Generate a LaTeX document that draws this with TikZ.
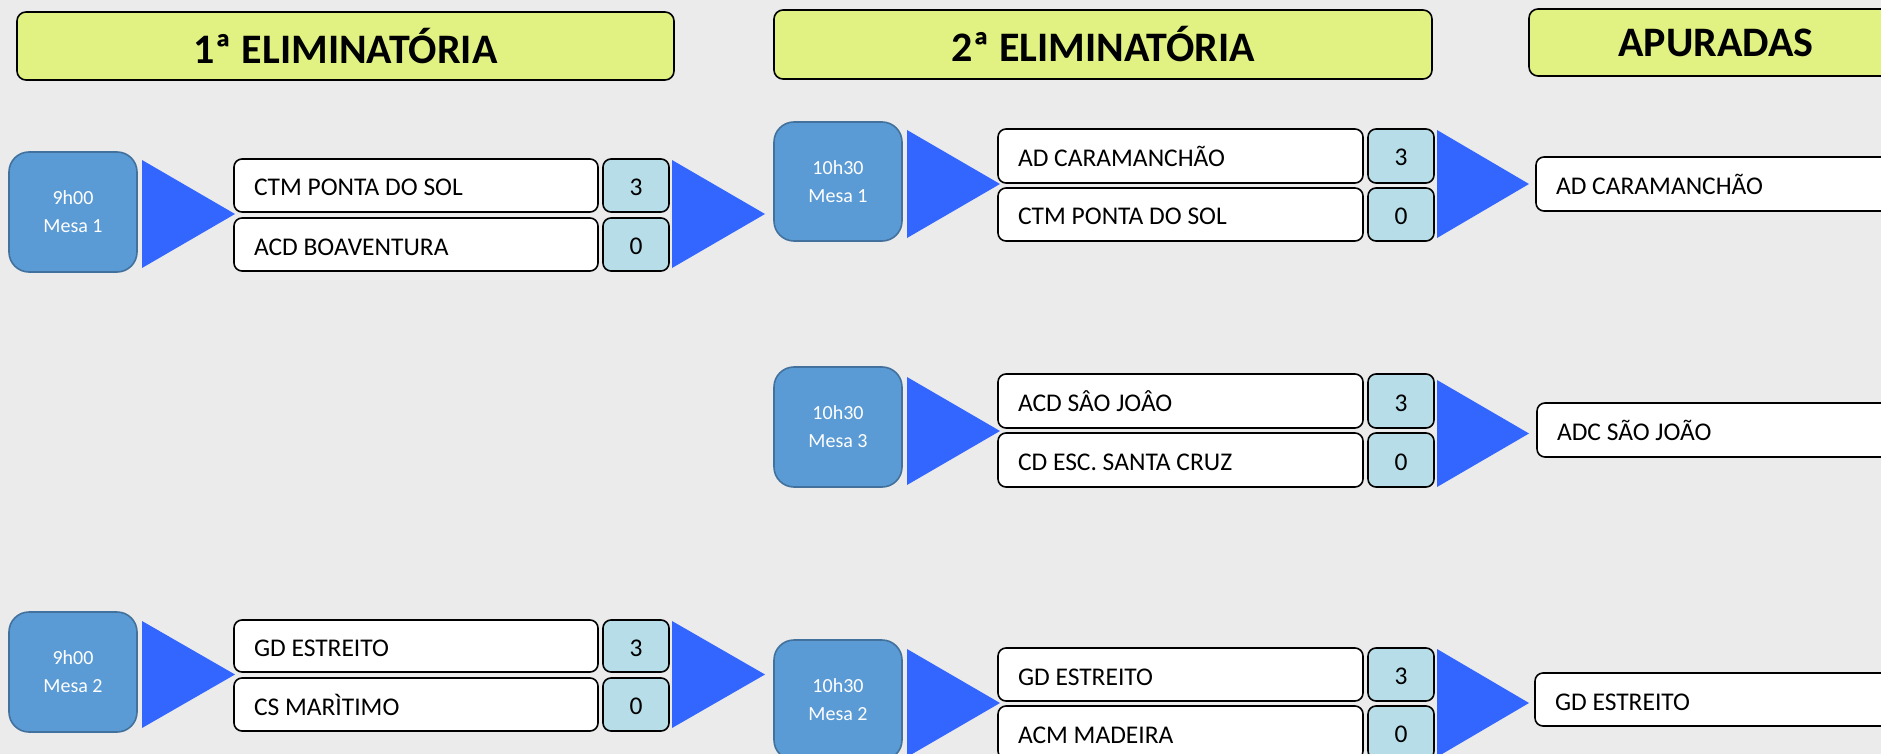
\documentclass[tikz,border=0pt]{standalone}
\usepackage{fontspec}
\setmainfont{Carlito}
\definecolor{bgcol}{HTML}{EBEBEB}
\definecolor{hdrcol}{HTML}{E2F282}
\definecolor{timecol}{HTML}{5B9BD5}
\definecolor{timeline}{HTML}{41719C}
\definecolor{scorecol}{HTML}{B7DDE8}
\definecolor{tricol}{HTML}{3366FF}
\newcommand\bx[7]{\node[#2,anchor=north west,minimum width={#5-#3},minimum height={#6-#4}] (#1) at (#3,#4) {#7};}
\newcommand\tri[4]{\fill[tri] (#1,#2) -- (#3,{(#2+#4)/2}) -- (#1,#4) -- cycle;}
\newcommand\teamlabel[2]{\node[teamtxt] (#1-l) at ([xshift=20pt,yshift=-10.5pt]#1.west) {#2};}
\begin{document}
\begin{tikzpicture}[x=1pt,y=-1pt,
  every node/.style={inner sep=0pt,outer sep=0pt},
  hdr/.style={draw=black,line width=1.6pt,fill=hdrcol,rounded corners=9pt,font=\fontsize{42}{50}\selectfont\bfseries},
  timebox/.style={draw=timeline,line width=1.6pt,fill=timecol,rounded corners=20pt,text=white,align=center,font=\fontsize{20}{28}\selectfont},
  team/.style={draw=black,line width=1.6pt,fill=white,rounded corners=8pt},
  score/.style={draw=black,line width=1.6pt,fill=scorecol,rounded corners=8pt,text height=20pt,text depth=0pt,font=\fontsize{25.5}{30}\selectfont},
  teamtxt/.style={anchor=base west,font=\fontsize{25.5}{30}\selectfont},
  tri/.style={fill=tricol}]
\useasboundingbox (0,0) rectangle (1881,754);
\fill[bgcol] (0,0) rectangle (1881,754);
\clip (0,0) rectangle (1881,754);

% headers
\bx{h1}{hdr}{17}{12}{674}{80}{1ª ELIMINATÓRIA}
\bx{h2}{hdr}{774}{10}{1432}{79}{2ª ELIMINATÓRIA}
\bx{h3}{hdr}{1529}{9}{1903}{76}{APURADAS}

% ---- round 1, match 1
\bx{tA}{timebox}{9}{152}{137}{272}{9h00\\Mesa 1}
\tri{142}{160}{235}{268}
\bx{a1}{team}{234}{159}{598}{212}{}
\bx{a2}{team}{234}{218}{598}{271}{}
\teamlabel{a1}{CTM PONTA DO SOL}
\teamlabel{a2}{ACD BOAVENTURA}
\bx{as1}{score}{603}{159}{669}{212}{3}
\bx{as2}{score}{603}{218}{669}{271}{0}
\tri{672}{160}{765}{268}

% ---- round 1, match 2
\bx{tB}{timebox}{9}{612}{137}{732}{9h00\\Mesa 2}
\tri{142}{621}{235}{728}
\bx{b1}{team}{234}{620}{598}{672}{}
\bx{b2}{team}{234}{678}{598}{731}{}
\teamlabel{b1}{GD ESTREITO}
\teamlabel{b2}{CS MARÌTIMO}
\bx{bs1}{score}{603}{620}{669}{672}{3}
\bx{bs2}{score}{603}{678}{669}{731}{0}
\tri{672}{621}{765}{728}

% ---- round 2, match 1
\bx{tC}{timebox}{774}{122}{902}{241}{10h30\\Mesa 1}
\tri{907}{130}{1000}{238}
\bx{c1}{team}{998}{129}{1363}{183}{}
\bx{c2}{team}{998}{188}{1363}{241}{}
\teamlabel{c1}{AD CARAMANCHÃO}
\teamlabel{c2}{CTM PONTA DO SOL}
\bx{cs1}{score}{1368}{129}{1434}{183}{3}
\bx{cs2}{score}{1368}{188}{1434}{241}{0}
\tri{1437}{130}{1529}{238}

% ---- round 2, match 3
\bx{tD}{timebox}{774}{367}{902}{487}{10h30\\Mesa 3}
\tri{907}{377}{1000}{485}
\bx{d1}{team}{998}{374}{1363}{428}{}
\bx{d2}{team}{998}{433}{1363}{487}{}
\teamlabel{d1}{ACD SÂO JOÂO}
\teamlabel{d2}{CD ESC. SANTA CRUZ}
\bx{ds1}{score}{1368}{374}{1434}{428}{3}
\bx{ds2}{score}{1368}{433}{1434}{487}{0}
\tri{1437}{380}{1529}{487}

% ---- round 2, match 2
\bx{tE}{timebox}{774}{640}{902}{760}{10h30\\Mesa 2}
\tri{907}{649}{1000}{757}
\bx{e1}{team}{998}{648}{1363}{701}{}
\bx{e2}{team}{998}{706}{1363}{759}{}
\teamlabel{e1}{GD ESTREITO}
\teamlabel{e2}{ACM MADEIRA}
\bx{es1}{score}{1368}{648}{1434}{701}{3}
\bx{es2}{score}{1368}{706}{1434}{759}{0}
\tri{1437}{649}{1529}{757}

% ---- qualified
\bx{q1}{team}{1536}{157}{1910}{211}{}
\bx{q2}{team}{1537}{403}{1910}{457}{}
\bx{q3}{team}{1535}{673}{1910}{726}{}
\teamlabel{q1}{AD CARAMANCHÃO}
\teamlabel{q2}{ADC SÃO JOÃO}
\teamlabel{q3}{GD ESTREITO}
\end{tikzpicture}
\end{document}
